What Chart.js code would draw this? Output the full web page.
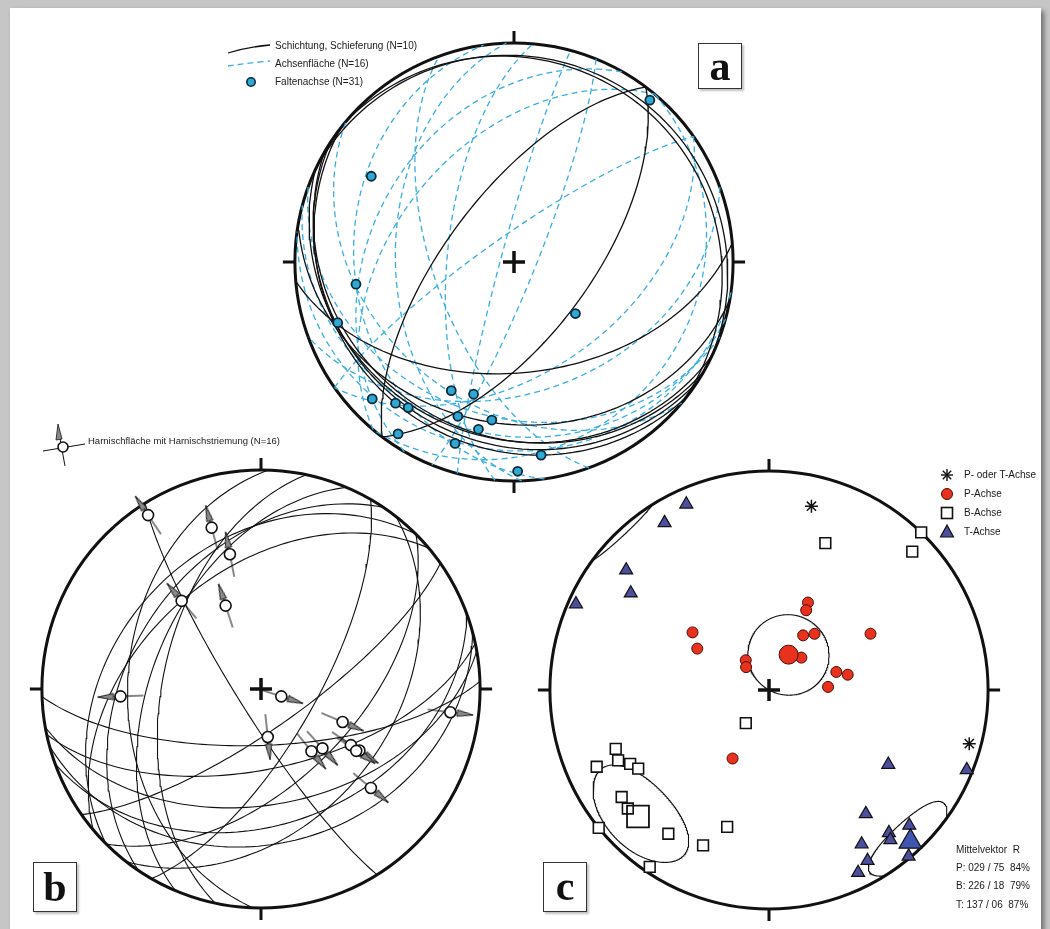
<!DOCTYPE html>
<html lang="de">
<head>
<meta charset="utf-8">
<title>Gefuegediagramme</title>
<script src="https://cdn.jsdelivr.net/npm/chart.js@4.4.1/dist/chart.umd.min.js"></script>
<style>
  html, body { margin: 0; padding: 0; }
  body { width: 1050px; height: 929px; background: #c6c6c6; position: relative; overflow: hidden;
         font-family: "Liberation Sans", Arial, sans-serif; }
  #blatt { position: absolute; left: 10px; top: 8px; width: 1031px; height: 925px; background: #fff;
           box-shadow: 3px 3px 5px rgba(0,0,0,0.45); }
  canvas { position: absolute; }
  .txt { position: absolute; font-size: 10px; color: #1a1a1a; white-space: pre; line-height: 12px; }
  .box { position: absolute; box-sizing: border-box; width: 44px; border: 1.5px solid #333; background: #fff;
         font: bold 42px "Liberation Serif", "Times New Roman", serif; text-align: center; color: #111;
         box-shadow: 2px 2px 2px rgba(0,0,0,0.25); }
  svg { position: absolute; left: 0; top: 0; overflow: visible; }
</style>
</head>
<body>
<div id="blatt"></div>
<canvas id="netzA" width="482" height="482" style="left:273px;top:21px"></canvas>
<canvas id="netzB" width="482" height="482" style="left:20px;top:448px"></canvas>
<canvas id="netzC" width="482" height="482" style="left:528px;top:449px"></canvas>

<svg width="1050" height="929">
  <!-- Legende a -->
  <path d="M228,53 Q248,47 270,45" fill="none" stroke="#111" stroke-width="1.3"/>
  <path d="M228,66 Q248,63 270,61" fill="none" stroke="#3aaee0" stroke-width="1.3" stroke-dasharray="6,4"/>
  <circle cx="251" cy="82" r="4.2" fill="#2fa9d3" stroke="#0d2a3a" stroke-width="1.6"/>
  <!-- Legende b -->
  <line x1="43" y1="451" x2="85" y2="444" stroke="#111" stroke-width="1"/>
  <line x1="65" y1="466" x2="59.5" y2="436" stroke="#111" stroke-width="1"/>
  <path d="M58,424 L56,440 L62,439 Z" fill="#888" stroke="#111" stroke-width="0.8"/>
  <circle cx="63" cy="447" r="5" fill="#fff" stroke="#111" stroke-width="1.6"/>
  <!-- Legende c -->
  <g stroke="#111" stroke-width="1.4">
    <line x1="947" y1="469" x2="947" y2="481"/><line x1="941" y1="475" x2="953" y2="475"/>
    <line x1="942.8" y1="470.8" x2="951.2" y2="479.2"/><line x1="942.8" y1="479.2" x2="951.2" y2="470.8"/>
  </g>
  <circle cx="947" cy="494" r="5.5" fill="#e8321e" stroke="#4a0c05" stroke-width="1"/>
  <rect x="941.5" y="507.5" width="11" height="11" fill="#fff" stroke="#111" stroke-width="1.6"/>
  <path d="M947,525 L953.5,537 L940.5,537 Z" fill="#4b4f9e" stroke="#111" stroke-width="1.2"/>
</svg>

<div class="txt" style="left:275px;top:40px">Schichtung, Schieferung (N=10)</div>
<div class="txt" style="left:275px;top:58px">Achsenfläche (N=16)</div>
<div class="txt" style="left:275px;top:76px">Faltenachse (N=31)</div>
<div class="txt" style="left:88px;top:435px;font-size:9.5px">Harnischfläche mit Harnischstriemung (N=16)</div>
<div class="txt" style="left:964px;top:469px">P- oder T-Achse</div>
<div class="txt" style="left:964px;top:488px">P-Achse</div>
<div class="txt" style="left:964px;top:507px">B-Achse</div>
<div class="txt" style="left:964px;top:526px">T-Achse</div>
<div class="txt" style="left:956px;top:844px">Mittelvektor  R</div>
<div class="txt" style="left:956px;top:862px">P: 029 / 75  84%</div>
<div class="txt" style="left:956px;top:880px">B: 226 / 18  79%</div>
<div class="txt" style="left:956px;top:899px">T: 137 / 06  87%</div>

<div class="box" style="left:698px;top:43px;height:46px;line-height:44px">a</div>
<div class="box" style="left:33px;top:862px;height:50px;line-height:48px">b</div>
<div class="box" style="left:543px;top:862px;height:50px;line-height:46px">c</div>

<script>
// --- Netz a: Flaechen als Fallrichtung / Fallwinkel, Linearen als Azimut / Abtauchen ---
const schichtRichtung = [307, 127, 175, 190, 205, 210, 213, 218, 40, 25];
const schichtFallen   = [65, 62, 48, 27, 21, 22, 19, 17, 9, 7];

const achsenRichtung = [285, 275, 268, 262, 310, 325, 112, 145, 300, 250, 200, 195, 188, 220, 160, 130];
const achsenFallen   = [85, 65, 45, 28, 45, 80, 82, 48, 35, 60, 30, 22, 15, 35, 40, 18];

const faltenAzimut = [40, 301, 262, 251, 130, 206, 197, 226, 220, 216, 200, 188, 192, 214, 198, 172, 179];
const faltenPlunge = [4, 25, 28, 16, 60, 35, 37, 11, 17, 19, 26, 28, 23, 6, 14, 12, 5];

// --- Netz b: Harnischflaechen und Striemung ---
const harnischRichtung = [272, 282, 293, 304, 315, 320, 238, 178, 168, 170, 160, 165, 128, 135, 120, 145];
const harnischFallen   = [39, 53, 49, 40, 34, 45, 81, 69, 60, 46, 38, 30, 40, 55, 70, 75];

const striemAzimut = [327, 343, 347, 318, 337, 267, 110, 172, 112, 141, 134, 122, 122, 97, 132, 123];
const striemPlunge = [6, 24, 37, 45, 56, 36, 82, 72, 57, 60, 58, 50, 46, 14, 33, 47];
const striemSinn   = [326, 345, 349, 320, 342, 268, 108, 174, 113, 141, 138, 125, 124, 97, 130, 124];

// --- Netz c: P-, B-, T-Achsen ---
const pAzimut = [24, 25, 307, 300, 32, 39, 45, 322, 315, 75, 79, 87, 61, 208];
const pPlunge = [54, 57, 54, 59, 66, 63, 73, 76, 78, 64, 60, 68, 46, 61];
const bAzimut = [21, 46, 44, 215, 249, 246, 245, 242, 239, 234, 230, 215, 203, 197, 231, 214];
const bPlunge = [29, 10, 0, 75, 26, 15, 25, 29, 31, 18, 17, 21, 24, 35, 0, 3];
const tAzimut = [336, 328, 310, 305, 294, 122, 112, 142, 149, 150, 154, 140, 141, 134, 140];
const tPlunge = [8, 11, 16, 24, 4, 36, 3, 29, 19, 11, 8, 16, 13, 12, 1];
const ptAzimut = [13, 105];
const ptPlunge = [15, 6];

// Mittelvektoren (Azimut, Abtauchen) und Vertrauenskegel (radial, tangential in Grad)
const mittelP = [29, 75];
const mittelB = [226, 18];
const mittelT = [137, 6];
const kegelP = [15, 15];
const kegelB = [15, 18];
const kegelT = [9.5, 14];

const rad = g => g * Math.PI / 180;

// Schmidtsches Netz, untere Halbkugel
function punktAusVektor(n, e, d) {
  const l = Math.hypot(n, e, d);
  n /= l; e /= l; d /= l;
  if (d < 0) { n = -n; e = -e; d = -d; }
  const k = 1 / Math.sqrt(1 + d);
  return { x: e * k, y: n * k };
}

function linear(azimut, plunge) {
  const t = rad(azimut), p = rad(plunge);
  return punktAusVektor(Math.cos(p) * Math.cos(t), Math.cos(p) * Math.sin(t), Math.sin(p));
}

function grosskreis(richtung, fallen) {
  const s = rad(richtung - 90), d = rad(richtung), f = rad(fallen);
  const pts = [];
  for (let a = 0; a <= 180; a += 2) {
    const ca = Math.cos(rad(a)), sa = Math.sin(rad(a));
    pts.push(punktAusVektor(
      ca * Math.cos(s) + sa * Math.cos(f) * Math.cos(d),
      ca * Math.sin(s) + sa * Math.cos(f) * Math.sin(d),
      sa * Math.sin(f)));
  }
  return pts;
}

// Kegel um einen Mittelvektor, zerlegt in Stuecke je Halbkugel
function kegel(mittel, halb) {
  const t = rad(mittel[0]), p = rad(mittel[1]);
  const m = [Math.cos(p) * Math.cos(t), Math.cos(p) * Math.sin(t), Math.sin(p)];
  const u = [-Math.sin(p) * Math.cos(t), -Math.sin(p) * Math.sin(t), Math.cos(p)];
  const v = [-Math.sin(t), Math.cos(t), 0];
  const ta = Math.tan(rad(halb[0])), tb = Math.tan(rad(halb[1]));
  const stuecke = [];
  let akt = [], seite = null;
  for (let w = 0; w <= 360; w += 1) {
    const c = Math.cos(rad(w)), s = Math.sin(rad(w));
    const q = m.map((mi, i) => mi + ta * c * u[i] + tb * s * v[i]);
    const unten = q[2] >= 0;
    if (seite !== null && unten !== seite) { stuecke.push(akt); akt = []; }
    akt.push(punktAusVektor(q[0], q[1], q[2]));
    seite = unten;
  }
  stuecke.push(akt);
  return stuecke;
}

// Primitivkreis, Randmarken und Mittelkreuz
const netzRahmen = {
  id: 'netzRahmen',
  beforeDatasetsDraw(chart) {
    const { ctx, scales: { x, y } } = chart;
    const cx = x.getPixelForValue(0), cy = y.getPixelForValue(0);
    const r = x.getPixelForValue(1) - cx;
    ctx.save();
    ctx.strokeStyle = '#111';
    ctx.lineWidth = 3;
    ctx.beginPath();
    ctx.arc(cx, cy, r, 0, 2 * Math.PI);
    ctx.stroke();
    const t = 12;
    ctx.beginPath();
    ctx.moveTo(cx, cy - r); ctx.lineTo(cx, cy - r - t);
    ctx.moveTo(cx, cy + r); ctx.lineTo(cx, cy + r + t);
    ctx.moveTo(cx - r, cy); ctx.lineTo(cx - r - t, cy);
    ctx.moveTo(cx + r, cy); ctx.lineTo(cx + r + t, cy);
    ctx.stroke();
    ctx.restore();
  },
  afterDatasetsDraw(chart) {
    const { ctx, scales: { x, y } } = chart;
    const cx = x.getPixelForValue(0), cy = y.getPixelForValue(0);
    ctx.save();
    ctx.strokeStyle = '#111';
    ctx.lineWidth = 3.5;
    ctx.beginPath();
    ctx.moveTo(cx - 11, cy); ctx.lineTo(cx + 11, cy);
    ctx.moveTo(cx, cy - 11); ctx.lineTo(cx, cy + 11);
    ctx.stroke();
    ctx.restore();
  }
};

function optionen() {
  return {
    responsive: false,
    animation: false,
    events: [],
    layout: { padding: 0, autoPadding: false },
    plugins: { legend: { display: false }, tooltip: { enabled: false } },
    scales: {
      x: { type: 'linear', min: -1.1, max: 1.1, display: false },
      y: { type: 'linear', min: -1.1, max: 1.1, display: false }
    }
  };
}

function linie(daten, farbe, breite, strich, order) {
  return { data: daten, showLine: true, pointRadius: 0, borderColor: farbe, borderWidth: breite,
           borderDash: strich || [], fill: false, tension: 0, order: order };
}

function netz(id, datasets) {
  return new Chart(document.getElementById(id), {
    type: 'scatter',
    data: { datasets: datasets },
    options: optionen(),
    plugins: [netzRahmen]
  });
}

// ---------- Netz a ----------
const dsA = [];
dsA.push({
  data: faltenAzimut.map((a, i) => linear(a, faltenPlunge[i])),
  pointRadius: 4.5, pointBackgroundColor: '#2fa9d3', pointBorderColor: '#0d2a3a', pointBorderWidth: 1.8, order: 0
});
schichtRichtung.forEach((r, i) => dsA.push(linie(grosskreis(r, schichtFallen[i]), '#111', 1.3, null, 1)));
achsenRichtung.forEach((r, i) => dsA.push(linie(grosskreis(r, achsenFallen[i]), '#3aaee0', 1.3, [6, 4], 2)));
netz('netzA', dsA);

// ---------- Netz b ----------
function pfeilBild() {
  const c = document.createElement('canvas');
  c.width = 50; c.height = 50;
  const g = c.getContext('2d');
  g.strokeStyle = '#111';
  g.lineWidth = 1;
  g.beginPath(); g.moveTo(25, 48); g.lineTo(25, 14); g.stroke();
  g.beginPath(); g.moveTo(25, 2); g.lineTo(21.8, 18); g.lineTo(28.2, 18); g.closePath();
  g.fillStyle = '#8a8a8a'; g.fill();
  g.lineWidth = 0.9; g.stroke();
  return c;
}
const striemPunkte = striemAzimut.map((a, i) => linear(a, striemPlunge[i]));
const dsB = [];
dsB.push({
  data: striemPunkte, pointRadius: 5.5, pointBackgroundColor: '#fff', pointBorderColor: '#111',
  pointBorderWidth: 1.6, order: 0
});
dsB.push({
  data: striemPunkte, pointStyle: pfeilBild(), pointRadius: 20, pointRotation: striemSinn, order: 1
});
harnischRichtung.forEach((r, i) => dsB.push(linie(grosskreis(r, harnischFallen[i]), '#111', 1.1, null, 2)));
netz('netzB', dsB);

// ---------- Netz c ----------
const dsC = [];
[kegelP, kegelB, kegelT].forEach((k, i) => {
  const mittel = [mittelP, mittelB, mittelT][i];
  kegel(mittel, k).forEach(st => dsC.push(linie(st, '#111', 1.1, null, 5)));
});
dsC.push({
  data: bAzimut.map((a, i) => linear(a, bPlunge[i])), pointStyle: 'rect', pointRadius: 7.6,
  pointBackgroundColor: '#fff', pointBorderColor: '#111', pointBorderWidth: 1.6, order: 3
});
dsC.push({
  data: [linear(mittelB[0], mittelB[1])], pointStyle: 'rect', pointRadius: 15.5,
  pointBackgroundColor: 'rgba(255,255,255,0)', pointBorderColor: '#111', pointBorderWidth: 1.8, order: 2
});
dsC.push({
  data: pAzimut.map((a, i) => linear(a, pPlunge[i])), pointRadius: 5.5,
  pointBackgroundColor: '#e8321e', pointBorderColor: '#4a0c05', pointBorderWidth: 1, order: 1
});
dsC.push({
  data: [linear(mittelP[0], mittelP[1])], pointRadius: 9.5,
  pointBackgroundColor: '#e8321e', pointBorderColor: '#4a0c05', pointBorderWidth: 1, order: 0
});
dsC.push({
  data: tAzimut.map((a, i) => linear(a, tPlunge[i])), pointStyle: 'triangle', pointRadius: 7.5,
  pointBackgroundColor: '#4b4f9e', pointBorderColor: '#111', pointBorderWidth: 1.2, order: 1
});
dsC.push({
  data: [linear(mittelT[0], mittelT[1])], pointStyle: 'triangle', pointRadius: 13,
  pointBackgroundColor: '#3f55b0', pointBorderColor: '#111', pointBorderWidth: 1.2, order: 0
});
dsC.push({
  data: ptAzimut.map((a, i) => linear(a, ptPlunge[i])), pointStyle: 'star', pointRadius: 6.5,
  pointBorderColor: '#111', pointBorderWidth: 1.5, order: 0
});
netz('netzC', dsC);
</script>
</body>
</html>
